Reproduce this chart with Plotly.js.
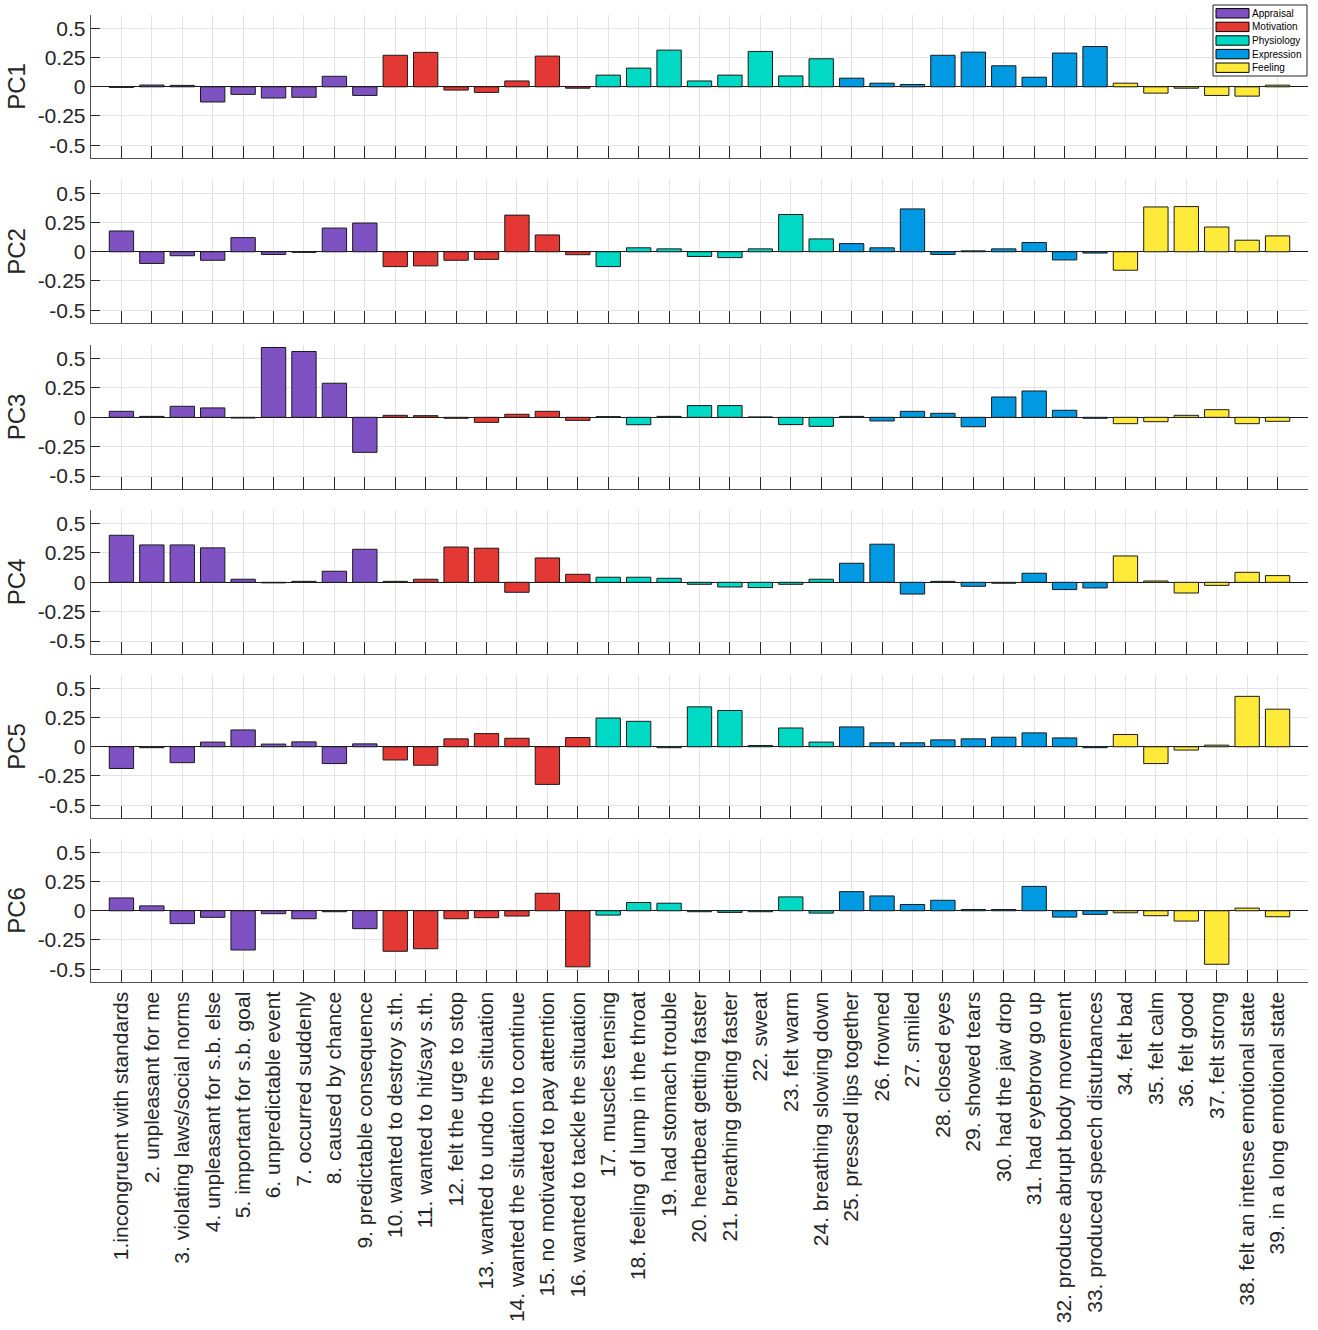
<!DOCTYPE html>
<html>
<head>
<meta charset="utf-8">
<script src="https://cdn.plot.ly/plotly-3.0.1.min.js"></script>
<style>html,body{margin:0;padding:0;background:#fff;}#chart{width:1318px;height:1330px;}</style>
</head>
<body>
<div id="chart"></div>
<script>
const categories = [
  "1.incongruent with standards",
  "2. unpleasant for me",
  "3. violating laws/social norms",
  "4. unpleasant for s.b. else",
  "5. important for s.b. goal",
  "6. unpredictable event",
  "7. occurred suddenly",
  "8. caused by chance",
  "9. predictable consequence",
  "10. wanted to destroy s.th.",
  "11. wanted to hit/say s.th.",
  "12. felt the urge to stop",
  "13. wanted to undo the situation",
  "14. wanted the situation to continue",
  "15. no motivated to pay attention",
  "16. wanted to tackle the situation",
  "17. muscles tensing",
  "18. feeling of lump in the throat",
  "19. had stomach trouble",
  "20. heartbeat getting faster",
  "21. breathing getting faster",
  "22. sweat",
  "23. felt warm",
  "24. breathing slowing down",
  "25. pressed lips together",
  "26. frowned",
  "27. smiled",
  "28. closed eyes",
  "29. showed tears",
  "30. had the jaw drop",
  "31. had eyebrow go up",
  "32. produce abrupt body movement",
  "33. produced speech disturbances",
  "34. felt bad",
  "35. felt calm",
  "36. felt good",
  "37. felt strong",
  "38. felt an intense emotional state",
  "39. in a long emotional state"
];

const groupNames = ["Appraisal", "Motivation", "Physiology", "Expression", "Feeling"];
const groupColors = ["#7E52C2", "#E43834", "#00D9C4", "#0099E2", "#FFEA3A"];
const itemGroup = [0,0,0,0,0,0,0,0,0, 1,1,1,1,1,1,1, 2,2,2,2,2,2,2,2, 3,3,3,3,3,3,3,3,3, 4,4,4,4,4,4];

const pc1 = [-0.005, 0.015, 0.012, -0.13, -0.065, -0.096, -0.09, 0.09, -0.074,
  0.27, 0.295, -0.028, -0.048, 0.05, 0.263, -0.012,
  0.10, 0.16, 0.314, 0.05, 0.10, 0.303, 0.093, 0.24,
  0.074, 0.031, 0.02, 0.27, 0.297, 0.18, 0.082, 0.289, 0.345,
  0.031, -0.054, -0.012, -0.074, -0.08, 0.014];
const pc2 = [0.178, -0.10, -0.034, -0.073, 0.121, -0.023, -0.005, 0.203, 0.246,
  -0.127, -0.121, -0.073, -0.065, 0.314, 0.144, -0.025,
  -0.127, 0.034, 0.025, -0.04, -0.05, 0.025, 0.319, 0.11,
  0.07, 0.034, 0.367, -0.023, 0.008, 0.025, 0.079, -0.07, -0.011,
  -0.158, 0.384, 0.387, 0.212, 0.099, 0.136];
const pc3 = [0.051, 0.008, 0.094, 0.08, -0.006, 0.594, 0.56, 0.29, -0.298,
  0.017, 0.014, -0.008, -0.043, 0.026, 0.051, -0.026,
  0.006, -0.063, 0.008, 0.10, 0.10, 0.003, -0.062, -0.077,
  0.008, -0.031, 0.051, 0.034, -0.08, 0.173, 0.224, 0.06, -0.008,
  -0.054, -0.037, 0.017, 0.065, -0.054, -0.034];
const pc4 = [0.40, 0.318, 0.318, 0.293, 0.026, -0.005, 0.008, 0.094, 0.281,
  0.008, 0.026, 0.30, 0.29, -0.085, 0.207, 0.068,
  0.043, 0.043, 0.034, -0.017, -0.04, -0.045, -0.017, 0.026,
  0.162, 0.324, -0.10, 0.008, -0.034, -0.008, 0.077, -0.062, -0.048,
  0.224, 0.011, -0.091, -0.026, 0.085, 0.057];
const pc5 = [-0.186, -0.008, -0.136, 0.04, 0.144, 0.023, 0.042, -0.144, 0.025,
  -0.113, -0.158, 0.068, 0.113, 0.073, -0.322, 0.079,
  0.246, 0.218, -0.008, 0.342, 0.311, 0.011, 0.161, 0.04,
  0.17, 0.034, 0.034, 0.059, 0.068, 0.082, 0.119, 0.076, -0.008,
  0.105, -0.144, -0.028, 0.014, 0.432, 0.322];
const pc6 = [0.11, 0.042, -0.11, -0.056, -0.336, -0.025, -0.068, -0.008, -0.153,
  -0.347, -0.325, -0.068, -0.059, -0.045, 0.15, -0.48,
  -0.037, 0.071, 0.065, -0.008, -0.014, -0.008, 0.119, -0.02,
  0.164, 0.127, 0.054, 0.09, 0.011, 0.011, 0.209, -0.054, -0.031,
  -0.017, -0.042, -0.088, -0.458, 0.023, -0.051];

const pcNames = ["PC1", "PC2", "PC3", "PC4", "PC5", "PC6"];
const pcValues = [pc1, pc2, pc3, pc4, pc5, pc6];
const yTickVals = [-0.5, -0.25, 0, 0.25, 0.5];
const yTickText = ["-0.5", "-0.25", "0", "0.25", "0.5"];

// layout geometry (pixels)
const W = 1318, H = 1330;
const M = { l: 91, r: 10, t: 15, b: 348 };
const plotW = W - M.l - M.r, plotH = H - M.t - M.b;
const px2x = p => (p - M.l) / plotW;
const px2y = p => (H - M.b - p) / plotH;

// panel domains (top to bottom)
const domains = [
  [0.8521, 1.0],
  [0.6815, 0.8294],
  [0.5098, 0.6587],
  [0.3392, 0.4881],
  [0.1696, 0.3175],
  [0.0, 0.1479]
];

const FONT = "Liberation Sans, Arial, Helvetica, sans-serif";
const traces = [];
pcValues.forEach((vals, k) => {
  const suffix = k === 0 ? "" : String(k + 1);
  groupNames.forEach((gname, g) => {
    const xs = [], ys = [];
    vals.forEach((v, i) => {
      if (itemGroup[i] === g) { xs.push(i + 1); ys.push(v); }
    });
    traces.push({
      type: "bar",
      x: xs,
      y: ys,
      width: 0.8,
      name: gname,
      showlegend: false,
      marker: { color: groupColors[g], line: { color: "#1a1a1a", width: 1 } },
      xaxis: "x" + suffix,
      yaxis: "y" + suffix,
      hoverinfo: "x+y"
    });
  });
});

// custom MATLAB-style legend box (shapes + annotations)
const shapes = [];
const annotations = [];
shapes.push({
  type: "rect", xref: "paper", yref: "paper",
  x0: px2x(1213), x1: px2x(1307), y0: px2y(76), y1: px2y(5),
  fillcolor: "#ffffff", line: { color: "#262626", width: 1 }, layer: "above"
});
groupNames.forEach((gname, g) => {
  const cy = 13.3 + g * 13.6;
  shapes.push({
    type: "rect", xref: "paper", yref: "paper",
    x0: px2x(1216), x1: px2x(1249), y0: px2y(cy + 4.7), y1: px2y(cy - 4.7),
    fillcolor: groupColors[g], line: { color: "#000000", width: 1 }, layer: "above"
  });
  annotations.push({
    xref: "paper", yref: "paper", x: px2x(1250), y: px2y(cy),
    xanchor: "left", yanchor: "middle", showarrow: false,
    text: gname, font: { family: FONT, size: 10, color: "#000000" }
  });
});

const layout = {
  width: W,
  height: H,
  margin: M,
  paper_bgcolor: "#ffffff",
  plot_bgcolor: "#ffffff",
  font: { family: FONT, color: "#262626" },
  barmode: "overlay",
  showlegend: false,
  shapes: shapes,
  annotations: annotations
};

const tickPositions = categories.map((c, i) => i + 1);
pcValues.forEach((vals, k) => {
  const suffix = k === 0 ? "" : String(k + 1);
  layout["xaxis" + suffix] = {
    domain: [0, 1],
    anchor: "y" + suffix,
    range: [0, 40],
    tickmode: "array",
    tickvals: tickPositions,
    ticktext: categories,
    showticklabels: k === 5,
    tickangle: -90,
    tickfont: { family: FONT, size: 21, color: "#262626" },
    ticks: "inside",
    ticklen: 12,
    tickcolor: "#262626",
    showgrid: true,
    gridcolor: "#e3e3e3",
    showline: true,
    linecolor: "#505050",
    linewidth: 1.3,
    zeroline: false,
    automargin: false,
    fixedrange: true
  };
  layout["yaxis" + suffix] = {
    domain: domains[k],
    anchor: "x" + suffix,
    range: [-0.61, 0.615],
    tickmode: "array",
    tickvals: yTickVals,
    ticktext: yTickText,
    tickfont: { family: FONT, size: 21, color: "#262626" },
    ticks: "inside",
    ticklen: 9,
    tickcolor: "#262626",
    showgrid: true,
    gridcolor: "#e3e3e3",
    showline: true,
    linecolor: "#505050",
    linewidth: 1.3,
    zeroline: true,
    zerolinecolor: "#1a1a1a",
    zerolinewidth: 1,
    automargin: false,
    title: { text: pcNames[k], font: { family: FONT, size: 24, color: "#262626" }, standoff: 5 },
    fixedrange: true
  };
});

Plotly.newPlot("chart", traces, layout, { displayModeBar: false, staticPlot: true });
</script>
</body>
</html>
